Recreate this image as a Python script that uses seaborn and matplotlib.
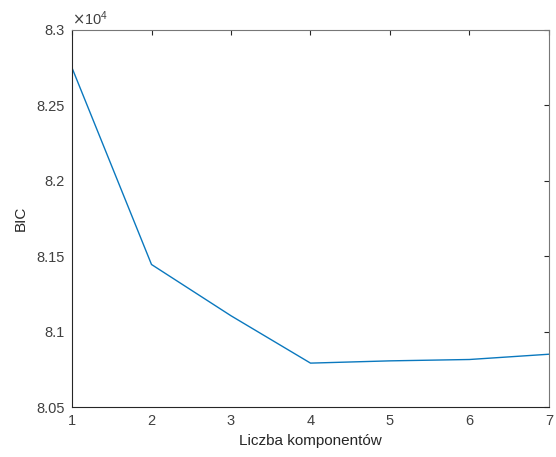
import numpy as np
import pandas as pd
import matplotlib
matplotlib.use('Agg')
import matplotlib.pyplot as plt
import seaborn as sns

# Wartości BIC
components = [1, 2, 3, 4, 5, 6, 7]
bic = [82749, 81445, 81105, 80791, 80806, 80815, 80850]
y_ticks = [80500, 81000, 81500, 82000, 82500, 83000]
y_tick_labels = ['8.05', '8.1', '8.15', '8.2', '8.25', '8.3']

df = pd.DataFrame({'Komponenty': components, 'BIC': bic})

sns.set_style('white')
plt.rcParams['font.family'] = ['Liberation Sans', 'DejaVu Sans']

fig = plt.figure(figsize=(5.56, 4.57), dpi=100)
ax = fig.add_axes([0.1295, 0.1094, 0.8579, 0.825])

sns.lineplot(data=df, x='Komponenty', y='BIC', color='#0A78BE', linewidth=1.0, ax=ax)

ax.set_xlim(1, 7)
ax.set_ylim(80500, 83000)
ax.set_xticks(components)
ax.set_yticks(y_ticks)
ax.set_yticklabels(y_tick_labels)
ax.text(0.0, 1.005, r'$\times\mathregular{10^{4}}$', transform=ax.transAxes,
        fontsize=10.5, color='#404040', ha='left', va='bottom')

ax.set_xlabel('Liczba komponentów', fontsize=11, color='#262626', labelpad=4)
ax.set_ylabel('BIC', fontsize=11, color='#262626', labelpad=6)

for side in ['left', 'bottom', 'top', 'right']:
    ax.spines[side].set_visible(True)
    ax.spines[side].set_color('#262626')
    ax.spines[side].set_linewidth(0.8)
ax.spines['top'].set_color('#777777')
ax.spines['right'].set_color('#777777')

ax.tick_params(direction='in', length=3.5, width=0.8, colors='#262626',
               labelcolor='#404040', labelsize=10.5, top=True, right=True, pad=5)

fig.savefig('out.png', dpi=100, facecolor='white')
